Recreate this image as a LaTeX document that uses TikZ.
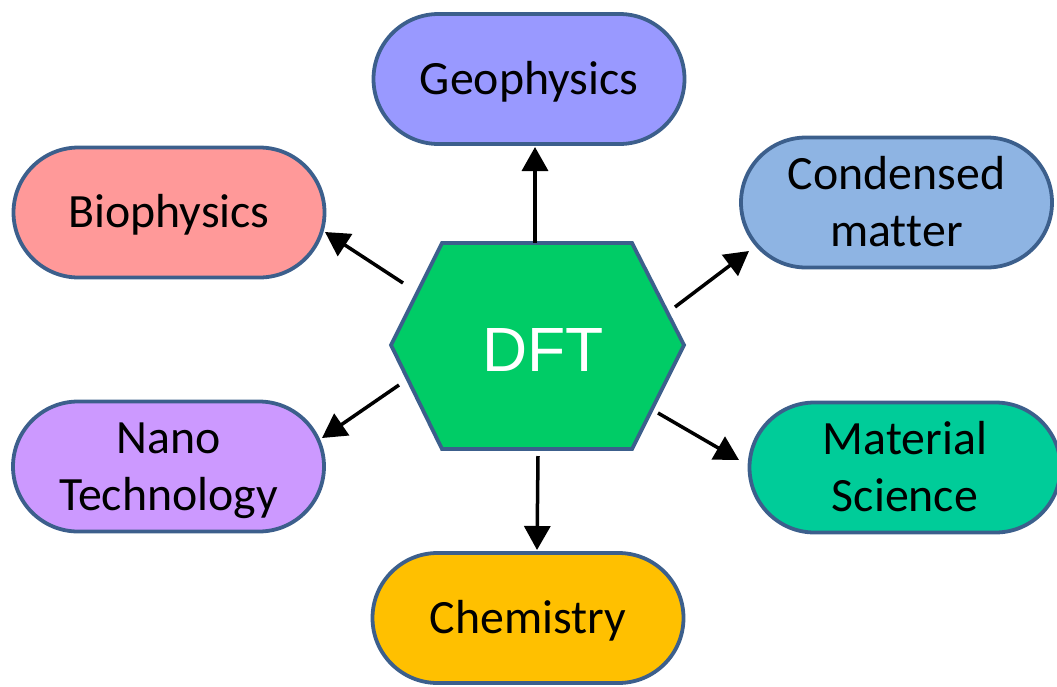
\documentclass[tikz,border=0pt]{standalone}
\usepackage{fontspec}
\setmainfont{Carlito}[Ligatures={NoCommon,NoContextual}]
\newfontfamily\dftfont{Liberation Sans}
\usetikzlibrary{arrows.meta,calc}
\definecolor{edgeblue}{RGB}{60,95,140}
\definecolor{geoc}{HTML}{9999FF}
\definecolor{bioc}{HTML}{FF9999}
\definecolor{condc}{HTML}{8EB4E3}
\definecolor{nanoc}{HTML}{CC99FF}
\definecolor{matc}{HTML}{00CC99}
\definecolor{chemc}{HTML}{FFC000}
\definecolor{dftc}{HTML}{00CC66}
\newcommand\oneline[1]{\raisebox{0pt}[30.2pt][0pt]{#1}}
\newcommand\twolines[2]{\raisebox{0pt}[87.2pt][0pt]{\begin{tabular}[b]{@{}c@{}}#1\\#2\end{tabular}}}
\tikzset{
  pill/.style={draw=edgeblue, line width=3.8pt, rectangle, rounded corners=65pt,
    minimum width=311pt, minimum height=130pt, inner sep=0pt,
    font=\fontsize{47.8}{57}\selectfont},
  hexbox/.style={draw=edgeblue, line width=3.8pt, fill=dftc, line join=miter},
  arr/.style={line width=3.5pt, -{Triangle[width=26pt,length=24pt]}},
}
\begin{document}
\begin{tikzpicture}[x=1pt,y=-1pt]
\useasboundingbox (0,0) rectangle (1057,686);
% hexagon
\draw[hexbox] (442,243) -- (632,243) -- (684,345) -- (632,449) -- (442,449) -- (391,345) -- cycle;
\coordinate (hex) at (537.5,346);
\node[text=white, font=\dftfont\fontsize{62.5}{70}\selectfont, inner sep=0pt] (dft) at (543,349) {\raisebox{0pt}[44.7pt][0pt]{DFT}};
% pills
\node[pill, fill=geoc] (geo) at (529,79) {\oneline{Geophysics}};
\node[pill, fill=bioc] (bio) at (169,212.5) {\oneline{Biophysics}};
\node[pill, fill=condc] (cond) at (896.5,202.5) {\twolines{Condensed}{mat\kern0pt ter}};
\node[pill, fill=nanoc] (nano) at (168.5,466.5) {\twolines{Nano}{Technology}};
\node[pill, fill=matc] (mat) at (905,467.5) {\twolines{Material}{Science}};
\node[pill, fill=chemc] (chem) at (528,618) {\oneline{Chemistry}};
% arrows
\draw[arr] ($(hex)+(-2.5,-103)$) -- ($(geo)+(6,68)$);
\draw[arr] ($(hex)+(0.5,110)$) -- ($(chem)+(9,-68)$);
\draw[arr] ($(hex)+(-134.5,-63)$) -- ($(bio)+(156,19.5)$);
\draw[arr] ($(hex)+(137.5,-39)$) -- ($(cond)+(-147.5,48.5)$);
\draw[arr] ($(hex)+(-138.5,39)$) -- ($(nano)+(153.5,-28.5)$);
\draw[arr] ($(hex)+(120.5,67)$) -- ($(mat)+(-166,-7.5)$);
\end{tikzpicture}
\end{document}
